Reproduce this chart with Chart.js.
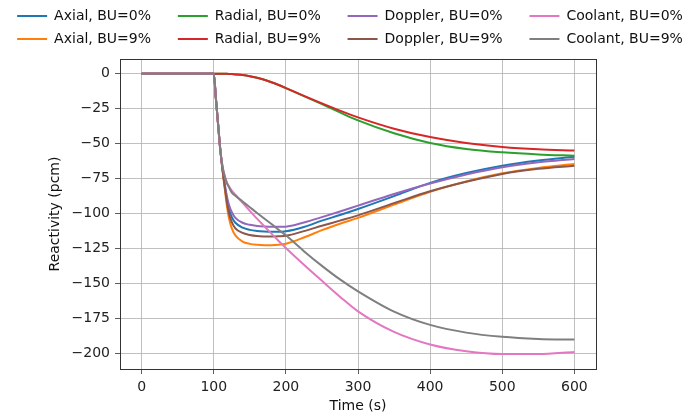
<!DOCTYPE html>
<html>
<head>
<meta charset="utf-8">
<script src="https://cdn.jsdelivr.net/npm/chart.js@4.4.1/dist/chart.umd.min.js"></script>
<style>
    body { margin: 0; background: #fff; }
    canvas { display: block; }
</style>
</head>
<body>
<canvas id="reactivityChart" width="700" height="417"></canvas>
<script>
// Time (s) shared by every series
const time = [0, 100, 103, 106, 109, 112, 115, 118, 121, 125, 130, 140, 150, 160, 170, 180, 190, 200, 225, 250, 275, 300, 350, 400, 450, 500, 550, 600];

// Reactivity (pcm)
const axialBu0 = [0, 0, -18, -36, -54, -67.5, -79, -89, -96.5, -102.5, -106.5, -110, -111.6, -112.4, -112.8, -113, -113, -112.6, -109.5, -105, -101, -96.7, -87.5, -78, -71, -65.7, -62, -59.3];
const axialBu9 = [0, 0, -18, -36, -54, -68.5, -81, -93.5, -103, -110.5, -115.5, -120, -121.6, -122.3, -122.6, -122.6, -122.3, -121.5, -117, -111.8, -107.2, -103, -93.5, -84.3, -77, -71.2, -67.3, -64.5];
const radialBu0 = [0, 0, 0, 0, -0.01, -0.03, -0.06, -0.1, -0.16, -0.3, -0.5, -1, -1.8, -2.9, -4.3, -6.1, -8.1, -10.3, -16, -21.8, -27.7, -33.4, -42.6, -49.5, -53.8, -56.2, -57.7, -58.6];
const radialBu9 = [0, 0, 0, 0, -0.01, -0.03, -0.06, -0.1, -0.16, -0.3, -0.5, -1, -1.8, -2.9, -4.3, -6.1, -8.1, -10.3, -15.8, -21.2, -26.4, -31.2, -39.3, -45.3, -49.5, -52.3, -54, -54.9];
const dopplerBu0 = [0, 0, -18, -36, -54, -67, -78, -87, -93.5, -99, -103, -106.5, -108, -108.8, -109.2, -109.4, -109.4, -109.3, -106.3, -102.5, -98.5, -94.3, -86, -78.5, -72, -66.8, -63.3, -61];
const dopplerBu9 = [0, 0, -18, -36, -54, -68, -80, -91, -99.5, -106, -110.5, -113.8, -115.2, -116, -116.3, -116.4, -116.2, -115.8, -112.5, -108.7, -105, -101.2, -92.5, -84, -77.2, -71.6, -68, -65.7];
const coolantBu0 = [0, 0, -18, -36, -54, -65.5, -72.5, -77.5, -80.5, -83.5, -86.5, -92.3, -98, -103.6, -109, -114.3, -119.5, -124.5, -136.5, -148, -159.3, -169.8, -184.5, -193.5, -198.3, -200.3, -200.3, -198.8];
const coolantBu9 = [0, 0, -18, -36, -54, -66, -73, -78, -81, -85, -87.2, -91.3, -95.4, -99.5, -103.5, -107.4, -111.5, -115.5, -126.8, -137.3, -147, -155.5, -170, -179.5, -185, -188, -189.5, -190];

const seriesNames = ['Axial, BU=0%', 'Axial, BU=9%', 'Radial, BU=0%', 'Radial, BU=9%',
    'Doppler, BU=0%', 'Doppler, BU=9%', 'Coolant, BU=0%', 'Coolant, BU=9%'];
const seriesValues = [axialBu0, axialBu9, radialBu0, radialBu9, dopplerBu0, dopplerBu9, coolantBu0, coolantBu9];
const seriesColors = ['#1f77b4', '#ff7f0e', '#2ca02c', '#d62728', '#9467bd', '#8c564b', '#e377c2', '#7f7f7f'];

const xTicks = { min: -30, max: 630, step: 100 };
const yTicks = { min: -211, max: 10.5, step: 25 };

// legend is filled column by column (4 columns, 2 rows)
const legendRank = [0, 4, 1, 5, 2, 6, 3, 7];

Chart.defaults.font.family = "'DejaVu Sans', sans-serif";
Chart.defaults.font.size = 14;
Chart.defaults.color = '#222';

window.addEventListener('load', () => {
    printReactivityChart();
});

/**
 * Builds one line dataset from a series
 * @param {Number} index Position of the series
 * @returns Dataset for Chart.js
 */
function buildDataset(index){
    return {
        label: seriesNames[index],
        data: time.map((t, i) => ({ x: t, y: seriesValues[index][i] })),
        borderColor: seriesColors[index],
        backgroundColor: seriesColors[index],
        borderWidth: 2,
        pointRadius: 0,
        fill: false,
        cubicInterpolationMode: 'monotone',
        order: seriesNames.length - 1 - index
    };
}

/**
 * Negative numbers with a real minus sign, like matplotlib
 */
function formatTick(value){
    return value < 0 ? '\u2212' + Math.abs(value) : String(value);
}

function printReactivityChart(){
    const datasets = seriesNames.map((name, i) => buildDataset(i));
    const gridColor = '#b0b0b0';
    const spineColor = '#333';

    const ctx = document.getElementById('reactivityChart').getContext('2d');
    new Chart(ctx, {
        type: 'line',
        data: { datasets: datasets },
        options: {
            responsive: false,
            animation: false,
            devicePixelRatio: 1,
            layout: { padding: 0 },
            plugins: {
                tooltip: { enabled: false },
                legend: {
                    position: 'top',
                    align: 'center',
                    labels: {
                        usePointStyle: true,
                        pointStyle: 'line',
                        pointStyleWidth: 30,
                        padding: 9,
                        color: '#111',
                        font: { size: 14 },
                        generateLabels: chart => {
                            const items = Chart.defaults.plugins.legend.labels.generateLabels(chart);
                            items.forEach(item => {
                                // extra room after every column but the last one
                                if (legendRank[item.datasetIndex] % 4 !== 3) item.text += '    ';
                            });
                            return items;
                        },
                        sort: (a, b) => legendRank[a.datasetIndex] - legendRank[b.datasetIndex]
                    }
                }
            },
            scales: {
                x: {
                    type: 'linear',
                    position: 'bottom',
                    min: xTicks.min,
                    max: xTicks.max,
                    ticks: { stepSize: xTicks.step, includeBounds: false, padding: 5, color: '#222' },
                    grid: { color: gridColor, lineWidth: 0.8, tickColor: spineColor, tickLength: 5 },
                    border: { color: spineColor, width: 1 },
                    title: { display: true, text: 'Time (s)', color: '#111', padding: { top: 4, bottom: 2 } },
                    afterFit: scale => { scale.height = 48; }
                },
                y: {
                    type: 'linear',
                    position: 'left',
                    min: yTicks.min,
                    max: yTicks.max,
                    ticks: { stepSize: yTicks.step, includeBounds: false, padding: 5, color: '#222', callback: formatTick },
                    grid: { color: gridColor, lineWidth: 0.8, tickColor: spineColor, tickLength: 5 },
                    border: { color: spineColor, width: 1 },
                    title: { display: true, text: 'Reactivity (pcm)', color: '#111', padding: { top: 47, bottom: 0 } },
                    afterFit: scale => { scale.width = 120; }
                },
                // top and right spines
                xTop: {
                    type: 'linear',
                    position: 'top',
                    ticks: { display: false },
                    grid: { display: false, drawTicks: false },
                    border: { color: spineColor, width: 1 },
                    afterFit: scale => { scale.height = 3; }
                },
                yRight: {
                    type: 'linear',
                    position: 'right',
                    ticks: { display: false },
                    grid: { display: false, drawTicks: false },
                    border: { color: spineColor, width: 1 },
                    afterFit: scale => { scale.width = 104; }
                }
            }
        }
    });
}
</script>
</body>
</html>
